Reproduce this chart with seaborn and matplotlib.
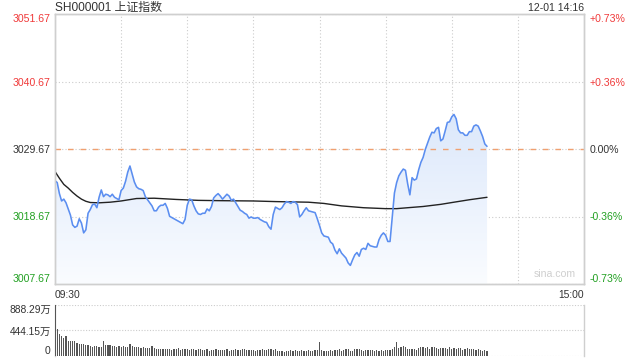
import numpy as np
import pandas as pd
import matplotlib
matplotlib.use("Agg")
import matplotlib.pyplot as plt
from matplotlib.colors import LinearSegmentedColormap
import seaborn as sns

# ---------------- data ----------------
title = "SH000001 上证指数"
stamp = "12-01 14:16"
prev_close = 3029.67
price_ticks = [3051.67, 3040.67, 3029.67, 3018.67, 3007.67]
pct_labels = ["+0.73%", "+0.36%", "0.00%", "-0.36%", "-0.73%"]
time_labels = ["09:30", "15:00"]
vol_ticks = [888.29, 444.15, 0]
vol_labels = ["888.29万", "444.15万", "0"]

# price per minute from 09:30 (minute index 0) to 14:16 (minute 196)
price = [
    3024.5, 3024.2, 3022.4, 3021.2, 3021.5, 3020.9, 3019.9, 3018.9, 3017.3, 3016.9,
    3017.1, 3018.3, 3017.6, 3016.0, 3016.5, 3019.2, 3019.8, 3020.6, 3020.7, 3020.1,
    3021.8, 3023.0, 3021.9, 3022.3, 3022.2, 3021.9, 3022.3, 3021.8, 3021.6, 3021.4,
    3022.9, 3023.3, 3024.4, 3025.9, 3026.9, 3025.6, 3024.3, 3023.5, 3023.2, 3023.1,
    3022.9, 3021.9, 3021.4, 3020.9, 3020.4, 3019.6, 3019.6, 3020.2, 3020.5, 3020.5,
    3020.8, 3020.0, 3018.7, 3018.5, 3018.3, 3018.1, 3017.9, 3017.7, 3017.5, 3018.2,
    3020.5, 3021.5, 3021.4, 3020.4, 3019.6, 3019.1, 3019.0, 3019.2, 3019.2, 3019.9,
    3019.6, 3020.3, 3021.7, 3022.1, 3022.4, 3022.0, 3021.5, 3021.9, 3022.3, 3022.0,
    3021.3, 3021.5, 3020.9, 3020.3, 3019.7, 3019.5, 3019.2, 3019.0, 3018.4, 3018.6,
    3018.4, 3018.4, 3018.5, 3018.2, 3018.0, 3017.8, 3017.7, 3017.0, 3016.6, 3019.0,
    3020.2, 3020.0, 3019.8, 3020.1, 3020.7, 3021.1, 3021.0, 3020.8, 3021.1, 3021.0,
    3020.6, 3018.6, 3019.0, 3019.6, 3020.1, 3019.6, 3019.5, 3019.4, 3019.3, 3018.3,
    3017.2, 3016.0, 3015.5, 3015.4, 3015.3, 3014.5, 3014.2, 3013.2, 3012.6, 3013.4,
    3012.7, 3012.3, 3011.9, 3011.1, 3010.7, 3011.6, 3012.4, 3012.8, 3012.2, 3013.3,
    3013.5, 3013.3, 3014.3, 3013.9, 3013.8, 3013.7, 3013.7, 3014.9, 3015.6, 3016.0,
    3015.6, 3014.6, 3014.6, 3018.5, 3022.5, 3024.2, 3025.3, 3025.9, 3026.4, 3026.2,
    3024.0, 3022.2, 3025.0, 3024.6, 3024.8, 3026.3, 3027.5, 3028.3, 3029.6, 3030.6,
    3031.6, 3032.4, 3032.3, 3033.0, 3033.2, 3031.0, 3031.3, 3032.6, 3034.0, 3034.1,
    3034.9, 3035.3, 3034.6, 3032.8, 3032.3, 3032.3, 3031.9, 3031.9, 3032.5, 3032.5,
    3033.4, 3033.6, 3033.4, 3032.6, 3031.7, 3030.5, 3030.1,
]

# average-price line, read at selected minutes
avg_minutes = [0, 2, 4, 6, 8, 10, 12, 14, 16, 20, 25, 30, 37, 45, 55, 65, 75, 90,
               100, 115, 122, 130, 140, 150, 155, 160, 167, 175, 181, 188, 196]
avg_values = [3026.0, 3024.9, 3023.9, 3023.3, 3022.6, 3022.0, 3021.5, 3021.15,
              3020.95, 3020.9, 3021.0, 3021.2, 3021.6, 3021.65, 3021.45, 3021.3,
              3021.25, 3021.2, 3021.1, 3021.0, 3020.8, 3020.4, 3020.1, 3019.95,
              3019.95, 3020.1, 3020.3, 3020.65, 3021.0, 3021.4, 3021.8]

# volume per minute (万)
volume = [
    888.29, 470, 390, 350, 320, 350, 265, 262, 260, 262,
    235, 215, 205, 212, 195, 190, 170, 165, 180, 172,
    165, 150, 262, 190, 188, 188, 178, 178, 165, 170,
    150, 175, 160, 152, 212, 170, 160, 150, 158, 146,
    152, 140, 146, 135, 175, 140, 130, 130, 120, 128,
    115, 130, 130, 110, 125, 130, 140, 112, 120, 118,
    125, 110, 115, 120, 108, 115, 118, 100, 112, 128,
    95, 110, 112, 125, 108, 100, 112, 100, 120, 95,
    105, 112, 125, 110, 100, 115, 118, 110, 98, 105,
    112, 90, 108, 112, 122, 100, 110, 118, 115, 110,
    125, 90, 80, 80, 78, 90, 85, 110, 88, 100,
    80, 95, 110, 95, 88, 100, 95, 90, 105, 110,
    245, 98, 90, 88, 92, 108, 90, 100, 105, 120,
    90, 112, 120, 120, 95, 88, 120, 125, 122, 110,
    95, 100, 102, 98, 100, 95, 100, 92, 98, 95,
    110, 105, 105, 116, 162, 240, 145, 160, 170, 150,
    120, 130, 118, 120, 110, 140, 150, 155, 140, 158,
    125, 160, 150, 145, 125, 145, 140, 140, 130, 150,
    125, 140, 120, 140, 135, 110, 130, 140, 120, 125,
    130, 112, 120, 105, 95, 110, 95,
]

minutes = np.arange(len(price))
df = pd.DataFrame({"minute": minutes, "price": price})
df_avg = pd.DataFrame({"minute": avg_minutes, "avg": avg_values})

# ---------------- style ----------------
sns.set_theme(style="white")
plt.rcParams["font.family"] = ["Liberation Sans", "Noto Sans CJK SC", "DejaVu Sans"]

RED = "#f03a3a"
GREEN = "#22a022"
DARK = "#333333"
GRID = "#cccccc"
SPINE = "#cfcfcf"

fig = plt.figure(figsize=(6.4, 3.6), dpi=100)
ax = fig.add_axes([55 / 640, 76 / 360, 529 / 640, 270 / 360])
axv = fig.add_axes([55 / 640, 4 / 360, 529 / 640, 51 / 360])

ymin, ymax = price_ticks[-1], price_ticks[0]

# gradient fill under the price line
poly = ax.fill_between(df["minute"], df["price"], ymin, color="none", lw=0)
cmap = LinearSegmentedColormap.from_list("g", ["#fafcff", "#dce8fb"])
grad = np.linspace(0, 1, 256).reshape(-1, 1)
im = ax.imshow(grad, extent=[0, minutes[-1], ymin, max(price)], origin="lower",
               aspect="auto", cmap=cmap, zorder=1)
im.set_clip_path(poly.get_paths()[0], transform=ax.transData)

# grid
ax.set_xlim(0, 240)
ax.set_ylim(ymin, ymax)
ax.set_xticks([0, 240])
ax.set_xticks([30, 60, 90, 120, 150, 180, 210], minor=True)
ax.set_yticks(price_ticks)
ax.grid(which="minor", axis="x", color=GRID, ls=(0, (1, 2)), lw=0.8)
ax.grid(which="major", axis="y", color=GRID, ls=(0, (1, 2)), lw=0.8)
ax.axhline(prev_close, color="#f0a070", ls=(0, (4, 5)), lw=1.0, zorder=2)

# lines
sns.lineplot(data=df, x="minute", y="price", ax=ax, color="#5b8ef0", lw=1.15, zorder=4)
sns.lineplot(data=df_avg, x="minute", y="avg", ax=ax, color="#222222", lw=1.0, zorder=3)
ax.set_xlabel("")
ax.set_ylabel("")

# tick labels
ax.tick_params(axis="both", which="both", length=0)
ax.tick_params(axis="y", pad=3, labelsize=7.6)
ax.tick_params(axis="x", pad=4, labelsize=7.4, labelcolor=DARK)
ax.set_yticklabels([f"{v:.2f}" for v in price_ticks])
left_colors = [RED, RED, DARK, GREEN, GREEN]
for lab, c in zip(ax.get_yticklabels(), left_colors):
    lab.set_color(c)
ylabs = ax.get_yticklabels()
ylabs[0].set_va("top")
ylabs[-1].set_va("bottom")
ax.set_xticklabels(time_labels)
xl = ax.get_xticklabels()
xl[0].set_ha("left")
xl[1].set_ha("right")

ax2 = ax.twinx()
ax2.set_ylim(ymin, ymax)
ax2.set_yticks(price_ticks)
ax2.set_yticklabels(pct_labels)
ax2.tick_params(axis="y", length=0, pad=4, labelsize=7.6)
for lab, c in zip(ax2.get_yticklabels(), left_colors):
    lab.set_color(c)
r = ax2.get_yticklabels()
r[0].set_va("top")
r[-1].set_va("bottom")

for a in (ax, ax2):
    for s in a.spines.values():
        s.set_color(SPINE)
        s.set_linewidth(1.0)

fig.text(55 / 640, 352 / 360, title, ha="left", va="center",
         fontsize=8.6, color=DARK)
fig.text(584 / 640, 352 / 360, stamp, ha="right", va="center",
         fontsize=7.6, color=DARK)
ax.text(0.985, 0.02, "sina.com", transform=ax.transAxes, ha="right", va="bottom",
        fontsize=7.6, color="#cfcfcf")

# ---------------- volume ----------------
axv.bar(minutes, volume, width=0.55, color="#555555", lw=0, zorder=3)
axv.set_xlim(0, 240)
axv.set_ylim(0, vol_ticks[0])
axv.set_xticks([])
axv.set_yticks(vol_ticks)
axv.set_yticklabels(vol_labels)
axv.tick_params(axis="y", length=0, pad=3, labelsize=7.4, labelcolor=DARK)
vl = axv.get_yticklabels()
vl[0].set_va("top")
vl[-1].set_va("bottom")
for v in vol_ticks:
    axv.axhline(v, color=GRID, ls=(0, (1, 1.5)), lw=0.8, zorder=1)
for k, s in axv.spines.items():
    s.set_color(SPINE)
    s.set_linewidth(1.0)
axv.spines["top"].set_visible(False)
axv.spines["bottom"].set_visible(False)

fig.savefig("out.png", dpi=100)
